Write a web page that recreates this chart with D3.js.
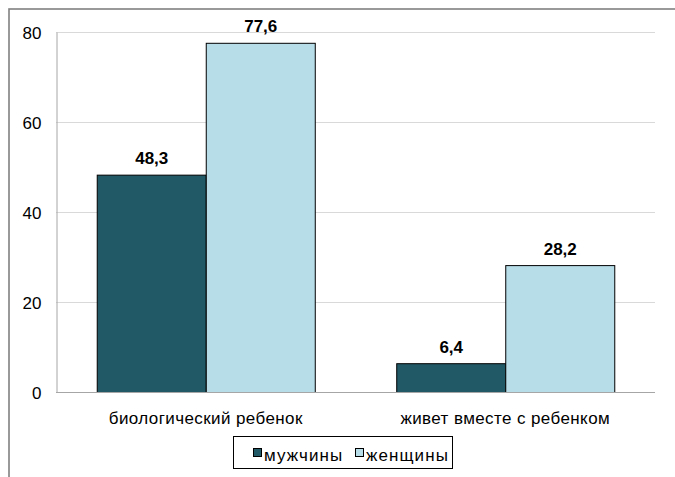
<!DOCTYPE html>
<html>
<head>
<meta charset="utf-8">
<script src="https://cdn.jsdelivr.net/npm/d3@7/dist/d3.min.js"></script>
<style>
  html, body { margin: 0; padding: 0; background: #fff; }
  svg { display: block; font-family: "Liberation Sans", Arial, sans-serif; }
</style>
</head>
<body>
<svg id="chart" width="675" height="477"></svg>
<script>
// Доля мужчин и женщин, имеющих ребенка (%)
const categories = ["биологический ребенок", "живет вместе с ребенком"];
const seriesNames = ["мужчины", "женщины"];
const men = [48.3, 6.4];
const women = [77.6, 28.2];
const yTicks = [0, 20, 40, 60, 80];
const colors = ["#215967", "#b7dde8"];

const seriesValues = [men, women];
const rows = categories.map((c, i) => ({
  category: c,
  values: seriesNames.map((s, j) => ({ series: s, value: seriesValues[j][i], color: colors[j] }))
}));

const ru = d3.formatLocale({ decimal: ",", thousands: " ", grouping: [3], currency: ["", ""] });
const fmt = ru.format(".1f");

const svg = d3.select("#chart");
const W = 675, H = 477;
const plot = { left: 56, right: 655, top: 32, bottom: 392 };

// outer frame (only top and left edges fall inside the view)
svg.append("rect")
  .attr("x", 9).attr("y", 9)
  .attr("width", W + 20).attr("height", H + 20)
  .attr("fill", "none").attr("stroke", "#808080").attr("stroke-width", 1.6);

const x = d3.scaleBand()
  .domain(categories)
  .range([plot.left, plot.right])
  .paddingInner(0.272)
  .paddingOuter(0.136);

const xs = d3.scaleBand()
  .domain(seriesNames)
  .range([0, x.bandwidth()])
  .padding(0);

const y = d3.scaleLinear()
  .domain([0, 80])
  .range([plot.bottom, plot.top]);

// gridlines
svg.append("g")
  .selectAll("line")
  .data(yTicks.filter(t => t > 0))
  .join("line")
  .attr("x1", plot.left).attr("x2", plot.right)
  .attr("y1", d => y(d) + 0.5).attr("y2", d => y(d) + 0.5)
  .attr("stroke", "#d9d9d9").attr("stroke-width", 1);

// y axis
const yAxis = svg.append("g")
  .attr("transform", `translate(${plot.left + 0.5},0)`)
  .call(d3.axisLeft(y).tickValues(yTicks).tickSize(0).tickPadding(15).tickFormat(d3.format("d")));
yAxis.select(".domain").attr("stroke", "#a6a6a6");
yAxis.selectAll("text")
  .attr("font-size", 17)
  .attr("font-family", "Liberation Sans, Arial, sans-serif")
  .attr("fill", "#000")
  .attr("dy", "0.4em");

// bars
const groups = svg.append("g")
  .selectAll("g")
  .data(rows)
  .join("g")
  .attr("transform", d => `translate(${x(d.category)},0)`);

groups.selectAll("rect")
  .data(d => d.values)
  .join("rect")
  .attr("x", d => xs(d.series) + 0.5)
  .attr("y", d => y(d.value) + 0.5)
  .attr("width", xs.bandwidth())
  .attr("height", d => y(0) - y(d.value))
  .attr("fill", d => d.color)
  .attr("stroke", "#000")
  .attr("stroke-width", 1);

groups.selectAll("text")
  .data(d => d.values)
  .join("text")
  .attr("x", d => xs(d.series) + xs.bandwidth() / 2 + 0.5)
  .attr("y", d => y(d.value) - 10.5)
  .attr("text-anchor", "middle")
  .attr("font-size", 17)
  .attr("font-weight", "bold")
  .attr("fill", "#000")
  .text(d => fmt(d.value));

// x axis baseline and category labels
const xAxis = svg.append("g")
  .attr("transform", `translate(0,${plot.bottom + 0.5})`)
  .call(d3.axisBottom(x).tickSize(0).tickPadding(19));
xAxis.select(".domain").attr("stroke", "#a6a6a6").attr("d", `M${plot.left},0H${plot.right}`);
xAxis.selectAll("text")
  .attr("font-size", 17)
  .attr("font-family", "Liberation Sans, Arial, sans-serif")
  .attr("letter-spacing", "0.4px")
  .attr("fill", "#000");

// legend
const legend = svg.append("g").attr("transform", "translate(233,436)");
legend.append("rect")
  .attr("x", 0.5).attr("y", 0.5)
  .attr("width", 219).attr("height", 32)
  .attr("fill", "#fff").attr("stroke", "#000").attr("stroke-width", 1);

const legendOffsets = [20, 122];
const items = legend.selectAll("g.item")
  .data(seriesNames)
  .join("g")
  .attr("class", "item")
  .attr("transform", (d, i) => `translate(${legendOffsets[i]},0)`);
items.append("rect")
  .attr("x", 0.5).attr("y", 12.5)
  .attr("width", 8).attr("height", 8)
  .attr("fill", (d, i) => colors[i])
  .attr("stroke", "#000").attr("stroke-width", 1);
items.append("text")
  .attr("x", 11).attr("y", 24.5)
  .attr("font-size", 17)
  .attr("letter-spacing", "1.1px")
  .attr("fill", "#000")
  .text(d => d);
</script>
</body>
</html>
